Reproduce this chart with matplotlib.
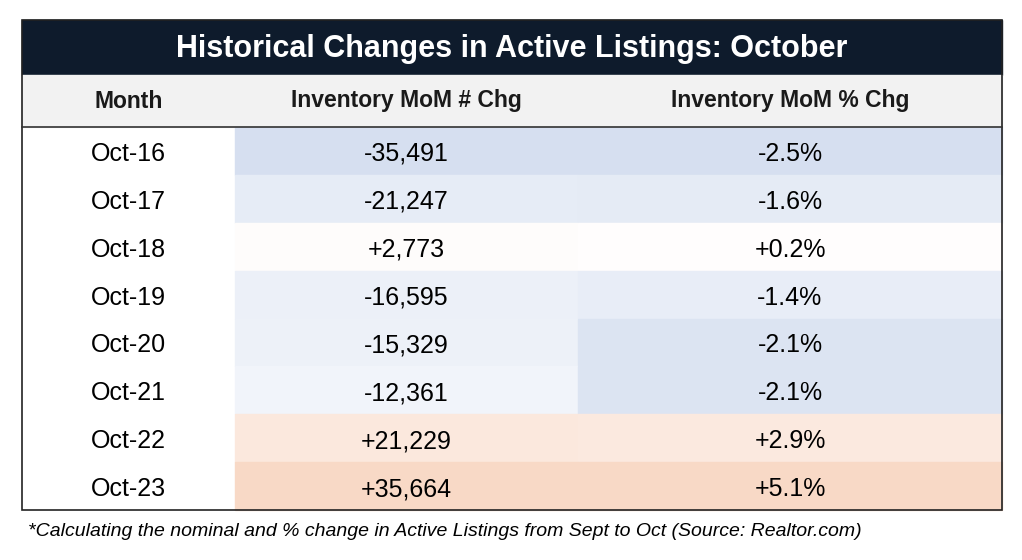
import matplotlib.pyplot as plt
from matplotlib.patches import Rectangle
from matplotlib.colors import LinearSegmentedColormap, TwoSlopeNorm

months = ["Oct-16", "Oct-17", "Oct-18", "Oct-19", "Oct-20", "Oct-21", "Oct-22", "Oct-23"]
num_chg = [-35491, -21247, 2773, -16595, -15329, -12361, 21229, 35664]
pct_chg = [-2.5, -1.6, 0.2, -1.4, -2.1, -2.1, 2.9, 5.1]

title = "Historical Changes in Active Listings: October"
headers = ["Month", "Inventory MoM # Chg", "Inventory MoM % Chg"]
note = "*Calculating the nominal and % change in Active Listings from Sept to Oct (Source: Realtor.com)"

cmap = LinearSegmentedColormap.from_list("hm", ["#d6dff0", "#ffffff", "#f8d9c6"])

fig = plt.figure(figsize=(10.22, 5.6), dpi=100)
ax = fig.add_axes([0, 0, 1, 1])
ax.set_xlim(0, 1022)
ax.set_ylim(560, 0)
ax.axis("off")

left, right = 22, 1002
cols = [22, 235, 578, 1002]
top, title_h, head_h = 20, 55, 52
row_top = top + title_h + head_h
row_h = (510 - row_top) / len(months)
fam = "Liberation Sans"

ax.add_patch(Rectangle((left, top), right - left, title_h, color="#0e1b2c"))
ax.text((left + right) / 2, top + title_h / 2 + 1, title, color="white", fontsize=22,
        fontweight="bold", ha="center", va="center", family=fam)
ax.add_patch(Rectangle((left, top + title_h), right - left, head_h, color="#f2f2f2"))
for i, h in enumerate(headers):
    ax.text((cols[i] + cols[i + 1]) / 2, top + title_h + head_h / 2, h, fontsize=16.5,
            fontweight="bold", ha="center", va="center", color="#1a1a1a", family=fam)
ax.plot([left, right], [row_top, row_top], color="#333333", lw=1.2)

norm_n = TwoSlopeNorm(vmin=-35491, vcenter=0, vmax=35664)
norm_p = TwoSlopeNorm(vmin=-2.5, vcenter=0, vmax=5.1)
for r, (m, n, p) in enumerate(zip(months, num_chg, pct_chg)):
    y = row_top + r * row_h
    ax.add_patch(Rectangle((cols[1], y), cols[2] - cols[1], row_h, color=cmap(norm_n(n))))
    ax.add_patch(Rectangle((cols[2], y), cols[3] - cols[2], row_h, color=cmap(norm_p(p))))
    yc = y + row_h / 2 + 3
    ax.text((cols[0] + cols[1]) / 2, yc, m, fontsize=18, ha="center", va="center", family=fam)
    ax.text((cols[1] + cols[2]) / 2, yc, f"{n:+,}", fontsize=18, ha="center", va="center", family=fam)
    ax.text((cols[2] + cols[3]) / 2, yc, f"{p:+.1f}%", fontsize=18, ha="center", va="center", family=fam)

ax.add_patch(Rectangle((left, top), right - left, 510 - top, fill=False, ec="#222222", lw=1.2))
ax.text(28, 531, note, fontsize=14, style="italic", ha="left", va="center", family=fam)

fig.savefig("out.png", dpi=100)
